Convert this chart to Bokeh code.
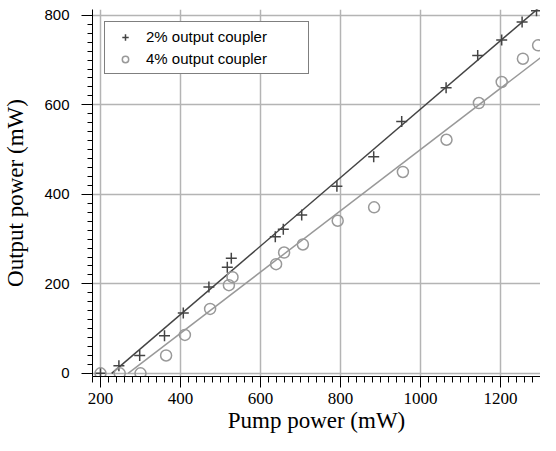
from bokeh.plotting import figure
from bokeh.models import SingleIntervalTicker, Legend, LegendItem
from bokeh.embed import file_html
from bokeh.resources import INLINE

# Data
pump_2pct = [200, 246, 298, 360, 407, 471, 517, 527, 637, 657, 703, 791, 883, 953, 1064, 1143, 1203, 1254, 1290]
out_2pct = [0, 17, 40, 84, 135, 193, 237, 257, 305, 322, 354, 418, 484, 563, 638, 710, 745, 785, 810]
pump_4pct = [200, 248, 300, 364, 411, 474, 521, 530, 639, 659, 706, 793, 884, 956, 1065, 1146, 1203, 1256, 1294]
out_4pct = [0, 0, 0, 40, 86, 144, 197, 215, 244, 270, 288, 341, 371, 450, 522, 604, 651, 703, 733]

# Linear fit lines (end points)
fit_2pct_x = [228, 1320]
fit_2pct_y = [0, 835]
fit_4pct_x = [269, 1320]
fit_4pct_y = [0, 719]

labels = ["2% output coupler", "4% output coupler"]

dark = "#444444"
light = "#999999"
grid = "#b4b4b4"

p = figure(width=540, height=435, x_range=(180, 1300), y_range=(-7, 813),
           output_backend="svg", toolbar_location=None,
           min_border_left=92, min_border_right=0, min_border_top=9, min_border_bottom=50)
p.outline_line_color = None
p.background_fill_color = "white"
p.border_fill_color = "white"

p.xaxis.ticker = SingleIntervalTicker(interval=200, num_minor_ticks=10)
p.yaxis.ticker = SingleIntervalTicker(interval=200, num_minor_ticks=10)

for g in (p.xgrid, p.ygrid):
    g.grid_line_color = grid
    g.grid_line_width = 1.5

xa = p.xaxis[0]
xa.axis_label = "Pump power (mW)"
xa.axis_label_text_font = "Liberation Serif"
xa.axis_label_text_font_size = "23px"
xa.axis_label_text_font_style = "normal"
xa.axis_label_text_color = "black"
xa.axis_label_standoff = 1
xa.major_label_text_font = "Liberation Serif"
xa.major_label_text_font_size = "17px"
xa.major_label_text_color = "black"
xa.major_label_standoff = 5
xa.major_tick_out = 11
xa.major_tick_in = 0
xa.minor_tick_out = 6
xa.minor_tick_in = 0
xa.axis_line_color = "black"
xa.major_tick_line_color = "black"
xa.minor_tick_line_color = "black"

ya = p.yaxis[0]
ya.axis_label = "Output power (mW)"
ya.axis_label_text_font = "Liberation Serif"
ya.axis_label_text_font_size = "23px"
ya.axis_label_text_font_style = "normal"
ya.axis_label_text_color = "black"
ya.axis_label_standoff = 13
ya.major_label_text_font = "Liberation Sans"
ya.major_label_text_font_size = "15px"
ya.major_label_text_color = "black"
ya.major_label_standoff = 12
ya.major_tick_out = 11
ya.major_tick_in = 0
ya.minor_tick_out = 5
ya.minor_tick_in = 0
ya.axis_line_color = "black"
ya.major_tick_line_color = "black"
ya.minor_tick_line_color = "black"

p.line(fit_2pct_x, fit_2pct_y, line_color=dark, line_width=1.5)
p.line(fit_4pct_x, fit_4pct_y, line_color=light, line_width=1.5)

r2 = p.scatter(pump_2pct, out_2pct, marker="cross", size=11, line_color=dark, line_width=1.5)
r4 = p.scatter(pump_4pct, out_4pct, marker="circle", size=11, line_color=light,
               fill_color=None, line_width=1.5)

legend = Legend(items=[LegendItem(label=labels[0], renderers=[r2]),
                       LegendItem(label=labels[1], renderers=[r4])],
                location="top_left", margin=12, padding=6,
                glyph_width=28, glyph_height=16, label_height=16, label_standoff=7,
                label_width=156, spacing=5,
                label_text_font="Liberation Sans", label_text_font_size="15px",
                label_text_color="black",
                border_line_color="black", border_line_width=1.5,
                background_fill_color="white", background_fill_alpha=1.0)
p.add_layout(legend)

open("out.html", "w").write(file_html(p, INLINE))
